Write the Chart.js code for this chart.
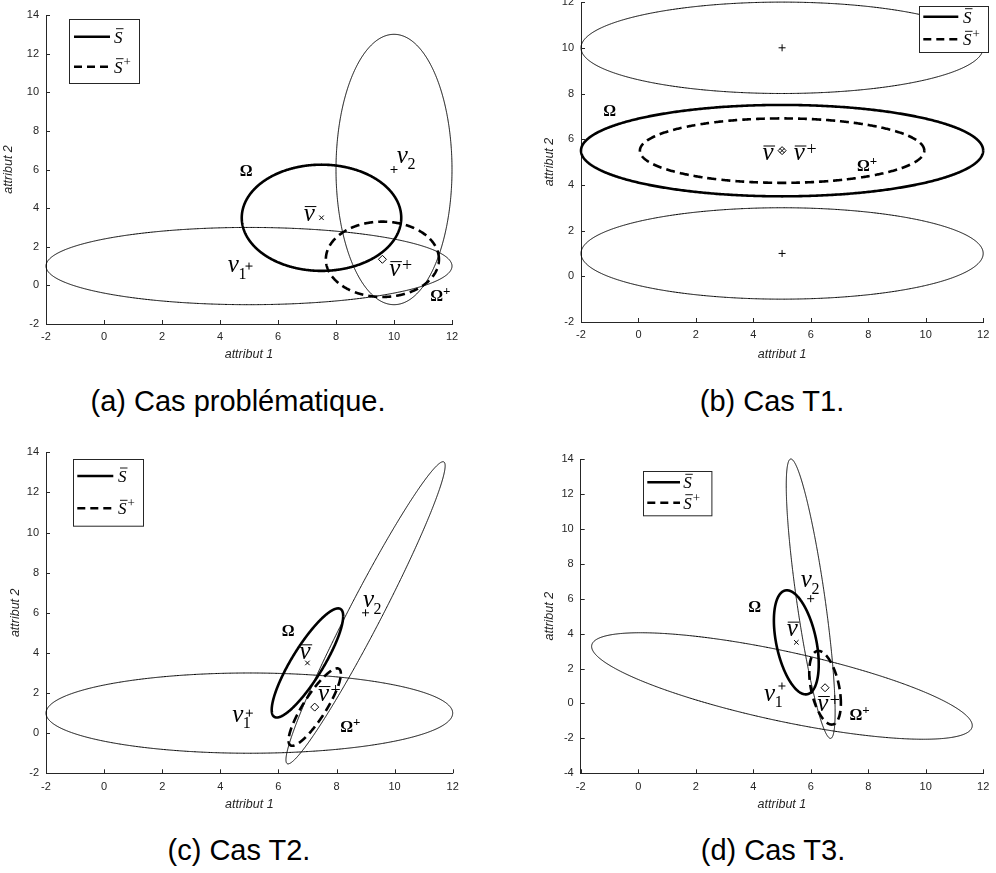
<!DOCTYPE html>
<html>
<head>
<meta charset="utf-8">
<script src="https://cdn.jsdelivr.net/npm/chart.js@4.4.1/dist/chart.umd.min.js"></script>
<style>
  body { margin: 0; background: #fff; width: 996px; height: 873px; position: relative; overflow: hidden; }
  canvas { position: absolute; }
  .cap { position: absolute; font-family: "Liberation Sans", Arial, sans-serif; font-size: 29px; line-height: 29px;
         color: #000; white-space: nowrap; transform: translateX(-50%); }
</style>
</head>
<body>
<canvas id="ca"></canvas>
<canvas id="cb"></canvas>
<canvas id="cc"></canvas>
<canvas id="cd"></canvas>
<div class="cap" style="left:238px;top:387px">(a) Cas problématique.</div>
<div class="cap" style="left:772px;top:387px">(b) Cas T1.</div>
<div class="cap" style="left:239px;top:836px">(c) Cas T2.</div>
<div class="cap" style="left:773px;top:836px">(d) Cas T3.</div>
<script>
// ticks
const xTickVals = [-2, 0, 2, 4, 6, 8, 10, 12];
const yTickValsA = [-2, 0, 2, 4, 6, 8, 10, 12, 14];
const yTickValsB = [-2, 0, 2, 4, 6, 8, 10, 12];
const yTickValsC = [-2, 0, 2, 4, 6, 8, 10, 12, 14];
const yTickValsD = [-4, -2, 0, 2, 4, 6, 8, 10, 12, 14];

// ellipses as [cx, cy, half-width x, half-height y, correlation]
// (a) cas problematique
const aObs = [[5, 1, 7, 2, 0], [10, 6, 2, 7, 0]];
const aOmega = [7.5, 3.5, 2.75, 2.75, 0];
const aOmegaPlus = [9.6, 1.35, 1.95, 1.95, 0];
const aObsMeans = [[5, 1], [10, 6]];
const aMean = [[7.5, 3.5]];
const aMeanPlus = [[9.6, 1.35]];

// (b) cas T1
const bObs = [[5, 10, 7, 2, 0], [5, 1, 7, 2, 0]];
const bOmega = [5, 5.5, 7, 2, 0];
const bOmegaPlus = [5, 5.5, 4.95, 1.41, 0];
const bObsMeans = [[5, 10], [5, 1]];
const bMean = [[5, 5.5]];
const bMeanPlus = [[5, 5.5]];

// (c) cas T2
const cObs = [[5, 1, 7, 2, 0], [9, 6, 2.74, 7.53, 0.973]];
const cOmega = [7, 3.5, 1.23, 2.72, 0.858];
const cOmegaPlus = [7.25, 1.3, 0.9, 1.93, 0.86];
const cObsMeans = [[5, 1], [9, 6]];
const cMean = [[7, 3.5]];
const cMeanPlus = [[7.25, 1.3]];

// (d) cas T3
const dObs = [[5, 1, 6.62, 3.05, -0.743], [6, 6, 0.85, 8, -0.81]];
const dOmega = [5.5, 3.5, 0.78, 2.98, -0.42];
const dOmegaPlus = [6.5, 0.9, 0.55, 2.11, -0.42];
const dObsMeans = [[5, 1], [6, 6]];
const dMean = [[5.5, 3.5]];
const dMeanPlus = [[6.5, 0.9]];

// math labels placed in data coordinates
const aLabels = [
  {t: 'O', x: 4.9, y: 5.97}, {t: 'v', bar: true, x: 7.08, y: 3.64},
  {t: 'v', sub: '2', x: 10.29, y: 6.63}, {t: 'v', sub: '1', x: 4.46, y: 0.96},
  {t: 'v', bar: true, sup: '+', x: 10.03, y: 0.79}, {t: 'O', sup: '+', x: 11.47, y: -0.51}
];
const bLabels = [
  {t: 'O', x: -1.0, y: 7.27}, {t: 'v', bar: true, x: 4.51, y: 5.33},
  {t: 'v', bar: true, sup: '+', x: 5.6, y: 5.33}, {t: 'O', sup: '+', x: 7.83, y: 4.86}
];
const cLabels = [
  {t: 'O', x: 6.34, y: 5.11}, {t: 'v', bar: true, x: 6.92, y: 3.98},
  {t: 'v', sub: '2', x: 9.1, y: 6.55}, {t: 'v', sub: '1', x: 4.6, y: 0.85},
  {t: 'v', bar: true, sup: '+', x: 7.55, y: 1.9}, {t: 'O', sup: '+', x: 8.35, y: 0.32}
];
const dLabels = [
  {t: 'O', x: 4.05, y: 5.54}, {t: 'v', sub: '2', x: 5.85, y: 6.97},
  {t: 'v', bar: true, x: 5.36, y: 4.17}, {t: 'v', sub: '1', x: 4.57, y: 0.48},
  {t: 'v', bar: true, sup: '+', x: 6.42, y: -0.09}, {t: 'O', sup: '+', x: 7.57, y: -0.62}
];

const AXIS = '#262626';
const SERIF = '"Liberation Serif", "DejaVu Serif", serif';

function outline(e) {
  const [cx, cy, sx, sy, r] = e;
  const q = Math.sqrt(1 - r * r);
  const pts = [];
  for (let i = 0; i <= 360; i++) {
    const t = i * Math.PI / 180;
    pts.push({x: cx + sx * Math.cos(t), y: cy + sy * (r * Math.cos(t) + q * Math.sin(t))});
  }
  return pts;
}
const toPts = arr => arr.map(([x, y]) => ({x, y}));

function drawMath(ctx, L, px, py) {
  ctx.fillStyle = '#000';
  ctx.strokeStyle = '#000';
  ctx.textAlign = 'left';
  ctx.textBaseline = 'alphabetic';
  if (L.t === 'O') {
    ctx.font = 'bold 16px ' + SERIF;
    const w = ctx.measureText('Ω').width;
    ctx.fillText('Ω', px - w / 2, py + 5.5);
    if (L.sup) {
      ctx.font = 'bold 13px ' + SERIF;
      ctx.fillText(L.sup, px + w / 2, py - 0.5);
    }
    return;
  }
  ctx.font = 'italic 25px ' + SERIF;
  const w = ctx.measureText('v').width;
  const x0 = px - w / 2;
  ctx.fillText('v', x0, py + 5.5);
  if (L.bar) {
    ctx.lineWidth = 1;
    ctx.beginPath();
    ctx.moveTo(x0 + 1, py - 8.5);
    ctx.lineTo(x0 + w + 1.5, py - 8.5);
    ctx.stroke();
  }
  if (L.sub) {
    ctx.font = '16px ' + SERIF;
    ctx.fillText(L.sub, x0 + w - 0.5, py + 12);
  }
  if (L.sup) {
    ctx.font = '18px ' + SERIF;
    ctx.fillText(L.sup, x0 + w + 1.5, py + 0.5);
  }
}

function drawLegend(ctx, area, lg) {
  const bx = area.left + lg.box[0], by = area.top + lg.box[1];
  ctx.save();
  ctx.fillStyle = '#fff';
  ctx.fillRect(bx, by, lg.box[2], lg.box[3]);
  ctx.strokeStyle = AXIS;
  ctx.lineWidth = 1;
  ctx.strokeRect(Math.round(bx) + 0.5, Math.round(by) + 0.5, lg.box[2], lg.box[3]);
  ctx.strokeStyle = '#000';
  ctx.lineWidth = 2.5;
  lg.rows.forEach((ry, i) => {
    const y = area.top + ry;
    ctx.setLineDash(i === 0 ? [] : [8, 5]);
    ctx.beginPath();
    ctx.moveTo(area.left + lg.line[0], y);
    ctx.lineTo(area.left + lg.line[1], y);
    ctx.stroke();
    ctx.setLineDash([]);
    const tx = area.left + lg.tx;
    ctx.fillStyle = '#000';
    ctx.font = 'italic 17px ' + SERIF;
    ctx.textBaseline = 'alphabetic';
    const w = ctx.measureText('S').width;
    ctx.fillText('S', tx, y + 6);
    ctx.lineWidth = 0.9;
    ctx.beginPath();
    ctx.moveTo(tx + 2, y - 8);
    ctx.lineTo(tx + w + 1, y - 8);
    ctx.stroke();
    ctx.lineWidth = 2.5;
    if (i === 1) {
      ctx.font = '13px ' + SERIF;
      ctx.fillText('+', tx + w + 1, y - 1);
    }
  });
  ctx.restore();
}

const annotPlugin = {
  id: 'annot',
  afterDraw(chart, args, opts) {
    const ctx = chart.ctx, area = chart.chartArea;
    const xs = chart.scales.x, ys = chart.scales.y;
    ctx.save();
    // inward tick marks
    ctx.strokeStyle = AXIS;
    ctx.lineWidth = 1;
    ctx.beginPath();
    xs.ticks.forEach(t => {
      const px = Math.round(xs.getPixelForValue(t.value)) + 0.5;
      ctx.moveTo(px, area.bottom);
      ctx.lineTo(px, area.bottom - 4);
    });
    ys.ticks.forEach(t => {
      const py = Math.round(ys.getPixelForValue(t.value)) + 0.5;
      ctx.moveTo(area.left, py);
      ctx.lineTo(area.left + 4, py);
    });
    ctx.stroke();
    opts.labels.forEach(L => drawMath(ctx, L, xs.getPixelForValue(L.x), ys.getPixelForValue(L.y)));
    drawLegend(ctx, area, opts.legend);
    ctx.restore();
  }
};

const panels = [
  {id: 'ca', left: 0, top: 0, h: 372, padTop: 15, padRight: 46, yw: 46, xh: 48, yTitlePad: 1.5, xTitlePad: 9.5,
   ymin: -2, ymax: 14, yTicks: yTickValsA,
   obs: aObs, omega: aOmega, omegaPlus: aOmegaPlus, obsMeans: aObsMeans, mean: aMean, meanPlus: aMeanPlus, labels: aLabels,
   legend: {box: [23.3, 4.3, 70, 64], rows: [21.7, 51.7], line: [28, 64], tx: 68}},
  {id: 'cb', left: 498, top: -20, h: 392, padTop: 22.1, padRight: 8, yw: 83, xh: 50, yTitlePad: 44.5, xTitlePad: 9.5,
   ymin: -2, ymax: 12, yTicks: yTickValsB,
   obs: bObs, omega: bOmega, omegaPlus: bOmegaPlus, obsMeans: bObsMeans, mean: bMean, meanPlus: bMeanPlus, labels: bLabels,
   legend: {box: [338, 3.9, 69, 46], rows: [14.6, 37.2], line: [342.3, 377.3], tx: 382}},
  {id: 'cc', left: 0, top: 436, h: 382, padTop: 16.3, padRight: 45.3, yw: 46, xh: 44.7, yTitlePad: 8.3, xTitlePad: 5.5,
   ymin: -2, ymax: 14, yTicks: yTickValsC,
   obs: cObs, omega: cOmega, omegaPlus: cOmegaPlus, obsMeans: cObsMeans, mean: cMean, meanPlus: cMeanPlus, labels: cLabels,
   legend: {box: [27.3, 7, 70, 66.7], rows: [23.7, 56], line: [31.3, 67.3], tx: 72}},
  {id: 'cd', left: 498, top: 436, h: 382, padTop: 23, padRight: 9.3, yw: 82.7, xh: 44.7, yTitlePad: 44.5, xTitlePad: 5.5,
   ymin: -4, ymax: 14, yTicks: yTickValsD,
   obs: dObs, omega: dOmega, omegaPlus: dOmegaPlus, obsMeans: dObsMeans, mean: dMean, meanPlus: dMeanPlus, labels: dLabels,
   legend: {box: [62.6, 11.7, 68.4, 44.3], rows: [23.3, 43.7], line: [66.6, 99.3], tx: 102.6}}
];

const tickFont = {family: '"Liberation Sans", Arial, sans-serif', size: 11};
const titleFont = {family: '"Liberation Sans", Arial, sans-serif', size: 12.5, style: 'italic'};

panels.forEach(p => {
  const cv = document.getElementById(p.id);
  cv.width = 498;
  cv.height = p.h;
  cv.style.left = p.left + 'px';
  cv.style.top = p.top + 'px';

  // a tiny tension keeps Chart.js off its fast path, which squashes near-vertical runs into spikes
  const line = (e, w, dash) => ({data: outline(e), showLine: true, borderColor: '#000', borderWidth: w,
    borderDash: dash || [], borderJoinStyle: 'round', pointRadius: 0, fill: false, tension: 0.0001, clip: false});
  const datasets = p.obs.map(e => line(e, 1));
  datasets.push(line(p.omega, 2.6));
  datasets.push(line(p.omegaPlus, 2.6, [9, 5]));
  datasets.push({data: toPts(p.obsMeans), pointStyle: 'cross', pointRadius: 3.5, borderColor: '#000', borderWidth: 1, clip: false});
  datasets.push({data: toPts(p.mean), pointStyle: 'crossRot', pointRadius: 3.2, borderColor: '#000', borderWidth: 1, clip: false});
  datasets.push({data: toPts(p.meanPlus), pointStyle: 'rectRot', pointRadius: 4, borderColor: '#000',
    backgroundColor: 'rgba(0,0,0,0)', borderWidth: 1, clip: false});

  new Chart(cv, {
    type: 'scatter',
    data: {datasets},
    options: {
      responsive: false,
      animation: false,
      devicePixelRatio: 1,
      elements: {line: {capBezierPoints: false}},
      layout: {padding: {left: 0, top: p.padTop, right: p.padRight, bottom: 0}},
      plugins: {legend: {display: false}, tooltip: {enabled: false}, annot: {labels: p.labels, legend: p.legend}},
      scales: {
        x: {
          type: 'linear', min: -2, max: 12,
          afterBuildTicks: s => { s.ticks = xTickVals.map(v => ({value: v})); },
          afterFit: s => { s.height = p.xh; },
          grid: {display: false, drawTicks: false},
          border: {color: AXIS, width: 1},
          ticks: {font: tickFont, color: AXIS, padding: 6.7, maxRotation: 0, autoSkip: false, callback: v => String(v)},
          title: {display: true, text: 'attribut 1', font: titleFont, color: AXIS, padding: {top: 0, bottom: p.xTitlePad}}
        },
        y: {
          type: 'linear', min: p.ymin, max: p.ymax,
          afterBuildTicks: s => { s.ticks = p.yTicks.map(v => ({value: v})); },
          afterFit: s => { s.width = p.yw; },
          grid: {display: false, drawTicks: false},
          border: {color: AXIS, width: 1},
          ticks: {font: tickFont, color: AXIS, padding: 7, autoSkip: false, callback: v => String(v)},
          title: {display: true, text: 'attribut 2', font: titleFont, color: AXIS, padding: {top: p.yTitlePad, bottom: 0}}
        }
      }
    },
    plugins: [annotPlugin]
  });
});
</script>
</body>
</html>
